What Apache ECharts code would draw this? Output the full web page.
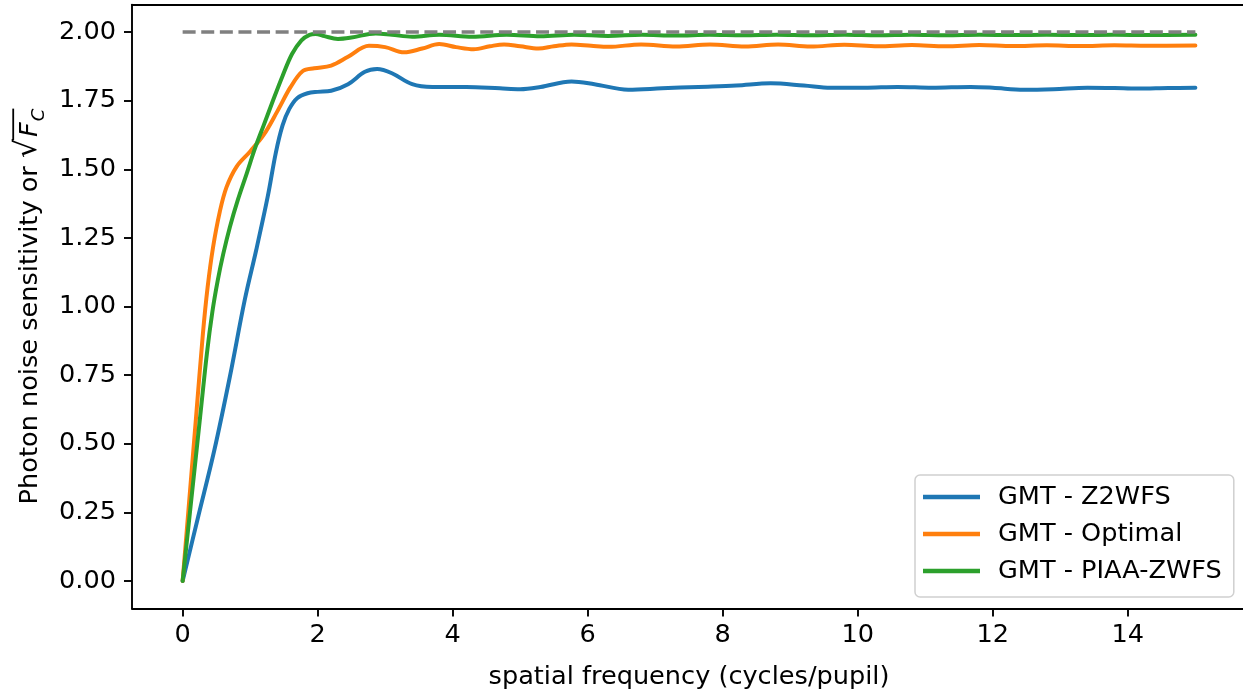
<!DOCTYPE html>
<html>
<head>
<meta charset="utf-8">
<script src="https://cdn.jsdelivr.net/npm/echarts@6/dist/echarts.min.js"></script>
<style>
html,body{margin:0;padding:0;background:#fff;}
#c{width:1243px;height:689px;}
</style>
</head>
<body>
<div id="c"></div>
<script>
// ---- data ----
const xTicks = [0, 2, 4, 6, 8, 10, 12, 14];
const yTicks = [0, 0.25, 0.5, 0.75, 1.0, 1.25, 1.5, 1.75, 2.0];

const z2Freq = [0, 0.23, 0.47, 0.70, 0.92, 1.09, 1.26, 1.38, 1.48, 1.58, 1.70, 1.85, 2.0, 2.2, 2.45, 2.7, 2.88, 3.1, 3.4, 3.7, 4.2, 4.7, 5.0, 5.3, 5.76, 6.1, 6.6, 7.1, 7.64, 8.2, 8.71, 9.2, 9.6, 10.1, 10.59, 11.1, 11.67, 12.0, 12.46, 12.9, 13.4, 13.8, 14.13, 14.6, 15];
const z2Vals = [0, 0.234, 0.477, 0.745, 1.024, 1.206, 1.40, 1.56, 1.66, 1.72, 1.76, 1.777, 1.782, 1.786, 1.81, 1.855, 1.865, 1.85, 1.81, 1.80, 1.80, 1.795, 1.792, 1.80, 1.82, 1.81, 1.79, 1.795, 1.80, 1.805, 1.813, 1.805, 1.797, 1.797, 1.80, 1.797, 1.80, 1.797, 1.79, 1.792, 1.797, 1.796, 1.794, 1.796, 1.797];

const optFreq = [0, 0.1, 0.2, 0.3, 0.37, 0.45, 0.55, 0.65, 0.8, 1.0, 1.2, 1.4, 1.6, 1.78, 1.95, 2.2, 2.45, 2.76, 3.0, 3.28, 3.55, 3.8, 4.05, 4.31, 4.55, 4.76, 5.0, 5.27, 5.5, 5.76, 6.05, 6.31, 6.79, 7.31, 7.81, 8.33, 8.82, 9.3, 9.8, 10.3, 10.8, 11.3, 11.8, 12.3, 12.8, 13.3, 13.8, 14.3, 15];
const optVals = [0, 0.30, 0.60, 0.90, 1.07, 1.215, 1.345, 1.435, 1.51, 1.565, 1.625, 1.71, 1.80, 1.858, 1.868, 1.878, 1.91, 1.95, 1.945, 1.926, 1.94, 1.956, 1.945, 1.937, 1.948, 1.955, 1.948, 1.94, 1.948, 1.955, 1.95, 1.946, 1.955, 1.947, 1.955, 1.947, 1.955, 1.947, 1.954, 1.948, 1.953, 1.948, 1.953, 1.949, 1.952, 1.949, 1.952, 1.95, 1.951];

const piaaFreq = [0, 0.13, 0.26, 0.36, 0.44, 0.52, 0.6, 0.7, 0.82, 0.95, 1.07, 1.2, 1.33, 1.48, 1.62, 1.76, 1.88, 1.97, 2.1, 2.3, 2.5, 2.86, 3.1, 3.4, 3.8, 4.29, 4.8, 5.3, 5.8, 6.3, 6.8, 7.3, 7.8, 8.3, 8.8, 9.3, 9.8, 10.3, 10.8, 11.3, 11.8, 12.3, 12.8, 13.3, 13.8, 14.3, 15];
const piaaVals = [0, 0.30, 0.60, 0.83, 0.98, 1.095, 1.19, 1.29, 1.39, 1.485, 1.575, 1.66, 1.745, 1.84, 1.92, 1.97, 1.99, 1.993, 1.985, 1.975, 1.98, 1.995, 1.99, 1.983, 1.99, 1.983, 1.99, 1.985, 1.99, 1.986, 1.99, 1.987, 1.99, 1.988, 1.99, 1.988, 1.99, 1.988, 1.99, 1.988, 1.99, 1.989, 1.99, 1.989, 1.99, 1.989, 1.99];

const refFreq = [0, 15];
const refVals = [2, 2];

const seriesNames = ['GMT - Z2WFS', 'GMT - Optimal', 'GMT - PIAA-ZWFS'];
const colors = ['#1f77b4', '#ff7f0e', '#2ca02c'];

const zip = (a, b) => a.map((v, i) => [v, b[i]]);

const FONT = 'DejaVu Sans';
const FS = 25.6;
const FS_SQRT = 30;
const FS_SUB = 18;
const F_PAD = 2;
const C_PAD = 1;

// measure label parts so that the radical's overline spans F_C
const mctx = document.createElement('canvas').getContext('2d');
const measure = (txt, font) => { mctx.font = font; return mctx.measureText(txt).width; };
const yPrefix = 'Photon noise sensitivity or ';
const wPre = measure(yPrefix, FS + 'px "DejaVu Sans"');
const wS = measure('\u221A', FS_SQRT + 'px "DejaVu Sans"');
const wF = measure('F', 'italic ' + FS + 'px "DejaVu Sans"') + F_PAD;
const wC = measure('C', 'italic ' + FS_SUB + 'px "DejaVu Sans"') + C_PAD;
const barStart = wPre + wS - 1.5;
const barWidth = wPre + wS + wF + wC - barStart;

const chart = echarts.init(document.getElementById('c'), null, {renderer: 'canvas'});

const lineSeries = (name, data, color) => ({
  name, type: 'line', data, smooth: 0.35, symbol: 'none', showSymbol: false,
  lineStyle: {color, width: 4, cap: 'round', join: 'round'},
  itemStyle: {color}, z: 3, animation: false
});

chart.setOption({
  animation: false,
  backgroundColor: '#ffffff',
  grid: {left: 132, right: -3, top: 4.6, bottom: 80.6, containLabel: false, outerBoundsMode: 'none'},
  xAxis: [{
    type: 'value', min: -0.75, max: 15.75,
    name: 'spatial frequency (cycles/pupil)', nameLocation: 'middle', nameGap: 56,
    nameTextStyle: {fontFamily: FONT, fontSize: FS, color: '#000'},
    axisLine: {show: true, onZero: false, lineStyle: {color: '#000', width: 1.9}},
    axisTick: {show: true, customValues: xTicks, length: 8, lineStyle: {color: '#000', width: 1.9}},
    axisLabel: {show: true, customValues: xTicks, margin: 14, fontFamily: FONT, fontSize: FS, color: '#000', formatter: v => String(v)},
    splitLine: {show: false}
  }, {
    type: 'value', position: 'top', min: -0.75, max: 15.75,
    axisLine: {show: true, onZero: false, lineStyle: {color: '#000', width: 1.9}},
    axisTick: {show: false}, axisLabel: {show: false}, splitLine: {show: false}
  }],
  yAxis: [{
    type: 'value', min: -0.1, max: 2.1,
    name: '{pre|}{bar|}\n{t|' + yPrefix + '}{s|\u221A}{f|F}{sub|C}',
    nameLocation: 'middle', nameGap: 84, nameRotate: 90,
    nameTextStyle: {
      fontFamily: FONT, fontSize: FS, color: '#000', align: 'center',
      rich: {
        pre: {width: barStart, height: 1.8, lineHeight: 1.8},
        bar: {width: barWidth, height: 1.8, lineHeight: 1.8, backgroundColor: '#000'},
        t: {fontFamily: FONT, fontSize: FS, color: '#000', lineHeight: 29, verticalAlign: 'bottom'},
        s: {fontFamily: FONT, fontSize: FS_SQRT, color: '#000', lineHeight: 29, verticalAlign: 'bottom'},
        f: {fontFamily: FONT, fontSize: FS, fontStyle: 'italic', color: '#000', lineHeight: 29, verticalAlign: 'bottom', padding: [0, 0, 0, F_PAD]},
        sub: {fontFamily: FONT, fontSize: FS_SUB, fontStyle: 'italic', color: '#000', lineHeight: 18, verticalAlign: 'bottom', padding: [0, 0, -5, C_PAD]}
      }
    },
    axisLine: {show: true, onZero: false, lineStyle: {color: '#000', width: 1.9}},
    axisTick: {show: true, customValues: yTicks, length: 8, lineStyle: {color: '#000', width: 1.9}},
    axisLabel: {show: true, customValues: yTicks, margin: 16, fontFamily: FONT, fontSize: FS, color: '#000', formatter: v => v.toFixed(2)},
    splitLine: {show: false}
  }, {
    type: 'value', position: 'right', min: -0.1, max: 2.1,
    axisLine: {show: true, onZero: false, lineStyle: {color: '#000', width: 1.9}},
    axisTick: {show: false}, axisLabel: {show: false}, splitLine: {show: false}
  }],
  legend: {
    data: seriesNames,
    orient: 'vertical', left: 915, top: 475,
    icon: 'rect', itemWidth: 57, itemHeight: 4.5, itemGap: 9,
    padding: [8, 12, 12, 8],
    backgroundColor: '#ffffff', borderColor: '#d0d0d0', borderWidth: 1.5, borderRadius: 5,
    textStyle: {fontFamily: FONT, fontSize: FS, color: '#000', lineHeight: 28, padding: [0, 0, 0, 13]}
  },
  series: [
    lineSeries(seriesNames[0], zip(z2Freq, z2Vals), colors[0]),
    lineSeries(seriesNames[1], zip(optFreq, optVals), colors[1]),
    lineSeries(seriesNames[2], zip(piaaFreq, piaaVals), colors[2]),
    {
      name: 'ref', type: 'line', data: zip(refFreq, refVals), symbol: 'none',
      lineStyle: {color: '#808080', width: 3.5, type: [13, 5.6]}, z: 4, silent: true
    }
  ]
});
</script>
</body>
</html>
